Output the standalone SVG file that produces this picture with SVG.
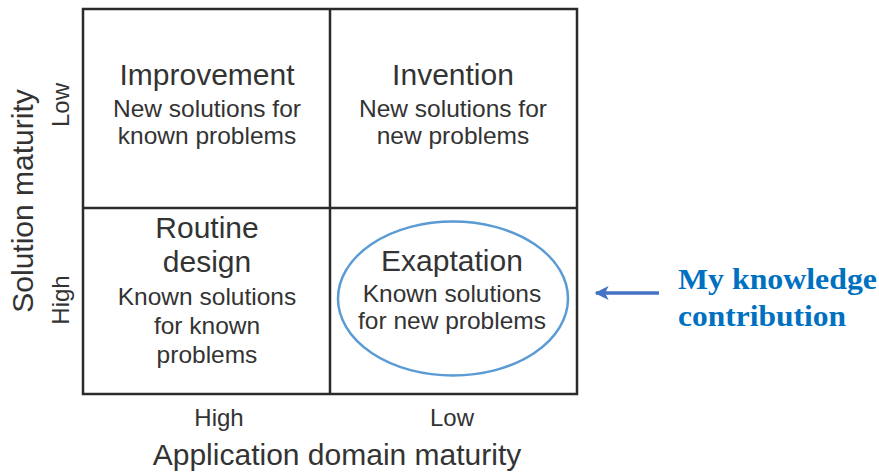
<svg xmlns="http://www.w3.org/2000/svg" width="879" height="476" viewBox="0 0 879 476">
<style>
.grid{fill:none;stroke:#2a2a2a;stroke-width:2.5}
.t{font-family:"Liberation Sans",Arial,sans-serif;fill:#333;text-anchor:middle}
.h{font-size:30px}
.s{font-size:24.5px}
.ax{font-size:30px}
.lab{font-size:24px}
.note{font-family:"Liberation Serif","Times New Roman",serif;font-weight:bold;font-size:29px;fill:#0070c0}
</style>
<defs>
<marker id="ah" markerWidth="4" markerHeight="4" refX="3.6" refY="2" orient="auto" markerUnits="strokeWidth">
<path d="M0,0 L4,2 L0,4 L1,2 Z" fill="#4472c4"/>
</marker>
</defs>
<rect width="879" height="476" fill="#fff"/>
<g id="grid">
<rect class="grid" x="83" y="9" width="494" height="385"/>
<line class="grid" x1="330" y1="9" x2="330" y2="394"/>
<line class="grid" x1="83" y1="208" x2="577" y2="208"/>
</g>
<g id="improvement">
<text class="t h" x="207" y="85">Improvement</text>
<text class="t s" x="207" y="117">New solutions for</text>
<text class="t s" x="207" y="144">known problems</text>
</g>
<g id="invention">
<text class="t h" x="453" y="85">Invention</text>
<text class="t s" x="453" y="117">New solutions for</text>
<text class="t s" x="453" y="144">new problems</text>
</g>
<g id="routine">
<text class="t h" x="207" y="238">Routine</text>
<text class="t h" x="207" y="272">design</text>
<text class="t s" x="207" y="305">Known solutions</text>
<text class="t s" x="207" y="334">for known</text>
<text class="t s" x="207" y="363">problems</text>
</g>
<g id="exaptation">
<ellipse cx="453" cy="298.5" rx="115" ry="77" fill="none" stroke="#5b9bd5" stroke-width="2.5"/>
<text class="t h" x="452" y="271">Exaptation</text>
<text class="t s" x="452" y="302">Known solutions</text>
<text class="t s" x="452" y="329">for new problems</text>
</g>
<g id="axes">
<text class="t ax" transform="translate(33,201) rotate(-90)">Solution maturity</text>
<text class="t lab" transform="translate(69,105) rotate(-90)">Low</text>
<text class="t lab" transform="translate(69,300) rotate(-90)">High</text>
<text class="t lab" x="219" y="426">High</text>
<text class="t lab" x="452" y="426">Low</text>
<text class="t ax" x="337" y="465">Application domain maturity</text>
</g>
<g id="connectors">
<line x1="659" y1="293" x2="596" y2="293" stroke="#4472c4" stroke-width="3.5" marker-end="url(#ah)"/>
</g>
<g id="note">
<text class="note" x="678" y="289" textLength="199" lengthAdjust="spacingAndGlyphs">My knowledge</text>
<text class="note" x="678" y="326" textLength="168" lengthAdjust="spacingAndGlyphs">contribution</text>
</g>
</svg>
